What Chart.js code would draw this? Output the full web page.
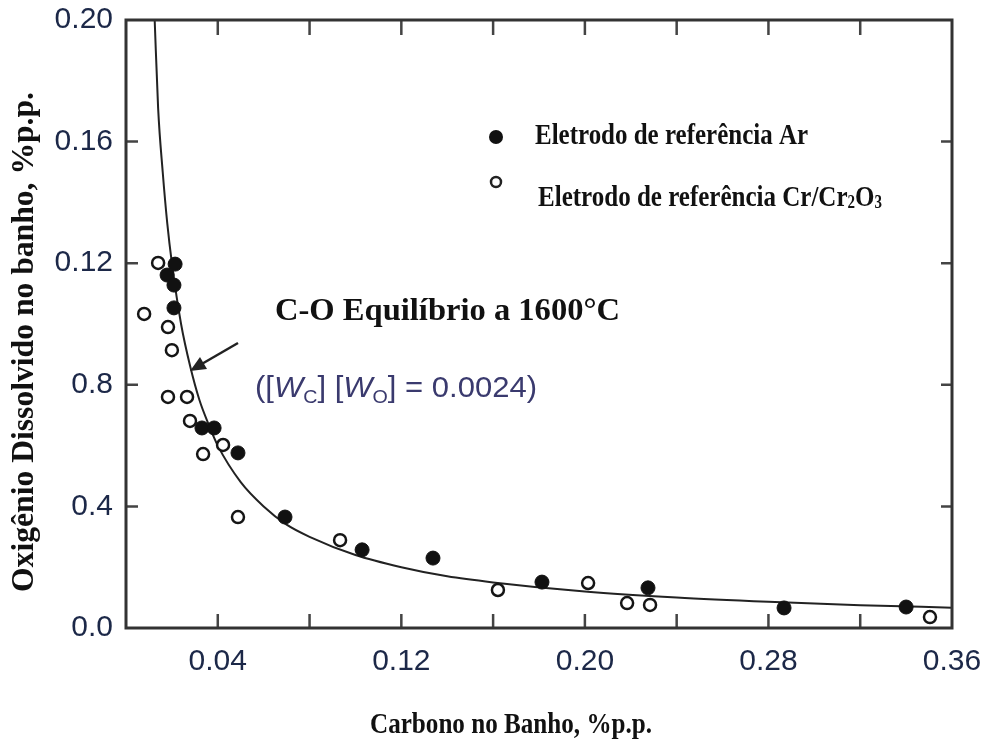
<!DOCTYPE html>
<html>
<head>
<meta charset="utf-8">
<script src="https://cdn.jsdelivr.net/npm/chart.js@4"></script>
<style>
  body { margin: 0; background: #fff; }
  canvas { display: block; }
</style>
</head>
<body>
<canvas id="chart" width="984" height="740"></canvas>
<script>
// axis ticks (the y labels are printed like this in the original figure)
const xTickValues = [0, 0.04, 0.08, 0.12, 0.16, 0.20, 0.24, 0.28, 0.32, 0.36];
const xTickLabels = ['', '0.04', '', '0.12', '', '0.20', '', '0.28', '', '0.36'];
const yTickValues = [0, 0.04, 0.08, 0.12, 0.16, 0.20];
const yTickLabels = ['0.0', '0.4', '0.8', '0.12', '0.16', '0.20'];

// equilibrium curve
const curveX = [0.0125, 0.014, 0.016, 0.018, 0.020, 0.024, 0.028, 0.032, 0.036, 0.040, 0.050, 0.060, 0.070, 0.080, 0.100, 0.120, 0.140, 0.160, 0.200, 0.240, 0.280, 0.320, 0.360];
const curveY = [0.200, 0.171, 0.150, 0.133, 0.120, 0.100, 0.086, 0.075, 0.067, 0.060, 0.048, 0.040, 0.034, 0.030, 0.024, 0.020, 0.017, 0.015, 0.012, 0.010, 0.0086, 0.0075, 0.0067];

// Ar reference electrode (filled dots)
const arX = [0.0214, 0.0179, 0.0209, 0.0209, 0.0331, 0.0384, 0.0488, 0.0693, 0.1029, 0.1338, 0.1813, 0.2275, 0.2868, 0.3400];
const arY = [0.1197, 0.1161, 0.1128, 0.1053, 0.0658, 0.0658, 0.0576, 0.0365, 0.0257, 0.0230, 0.0151, 0.0132, 0.0066, 0.0069];

// Cr/Cr2O3 reference electrode (open dots)
const crX = [0.0140, 0.0079, 0.0183, 0.0200, 0.0183, 0.0266, 0.0279, 0.0423, 0.0336, 0.0488, 0.0933, 0.1621, 0.2014, 0.2184, 0.2284, 0.3504];
const crY = [0.1201, 0.1033, 0.0990, 0.0914, 0.0760, 0.0760, 0.0681, 0.0602, 0.0572, 0.0365, 0.0289, 0.0125, 0.0148, 0.0082, 0.0076, 0.0036];

const toPoints = (xs, ys) => xs.map((x, i) => ({ x: x, y: ys[i] }));

const tickColor = '#1c2848';
const serif = '"Liberation Serif", "DejaVu Serif", serif';
const sans = '"Liberation Sans", Arial, sans-serif';

// draws a row of text pieces, squeezed to a target width
function drawRuns(ctx, runs, x, y, targetW, color) {
    ctx.save();
    ctx.fillStyle = color;
    ctx.textBaseline = 'alphabetic';
    ctx.textAlign = 'left';
    let total = 0;
    runs.forEach(r => { ctx.font = r.font; total += ctx.measureText(r.t).width; });
    ctx.translate(x, y);
    ctx.scale(targetW / total, 1);
    let cx = 0;
    runs.forEach(r => {
        ctx.font = r.font;
        ctx.fillText(r.t, cx, r.dy || 0);
        cx += ctx.measureText(r.t).width;
    });
    ctx.restore();
}

// frame, inward ticks, titles, legend and annotation
const decorPlugin = {
    id: 'decor',
    afterDraw(chart) {
        const ctx = chart.ctx;
        const a = chart.chartArea;
        const xs = chart.scales.x;
        const ys = chart.scales.y;

        ctx.save();
        ctx.strokeStyle = '#444';
        ctx.lineWidth = 2.5;
        xTickValues.slice(1, -1).forEach(v => {
            const px = xs.getPixelForValue(v);
            ctx.beginPath();
            ctx.moveTo(px, a.bottom); ctx.lineTo(px, a.bottom - 14);
            ctx.moveTo(px, a.top); ctx.lineTo(px, a.top + 15);
            ctx.stroke();
        });
        yTickValues.slice(1, -1).forEach(v => {
            const py = ys.getPixelForValue(v);
            ctx.beginPath();
            ctx.moveTo(a.left, py); ctx.lineTo(a.left + 12, py);
            ctx.moveTo(a.right, py); ctx.lineTo(a.right - 11, py);
            ctx.stroke();
        });
        ctx.strokeStyle = '#333';
        ctx.lineWidth = 3;
        ctx.strokeRect(a.left, a.top, a.right - a.left, a.bottom - a.top);

        // arrow pointing at the curve
        ctx.strokeStyle = '#222';
        ctx.fillStyle = '#222';
        ctx.lineWidth = 2.5;
        ctx.beginPath();
        ctx.moveTo(238, 343); ctx.lineTo(200, 365);
        ctx.stroke();
        ctx.beginPath();
        ctx.moveTo(190, 371); ctx.lineTo(200, 357); ctx.lineTo(207, 369);
        ctx.closePath();
        ctx.fill();
        ctx.restore();

        // axis titles
        drawRuns(ctx, [{ t: 'Carbono no Banho, %p.p.', font: 'bold 30px ' + serif }], 370, 733, 282, '#111');
        ctx.save();
        ctx.translate(33, 592);
        ctx.rotate(-Math.PI / 2);
        drawRuns(ctx, [{ t: 'Oxigênio Dissolvido no banho, %p.p.', font: 'bold 31px ' + serif }], 0, 0, 500, '#111');
        ctx.restore();

        // annotation
        drawRuns(ctx, [{ t: 'C-O Equilíbrio a 1600°C', font: 'bold 32px ' + serif }], 275, 320, 345, '#111');
        drawRuns(ctx, [
            { t: '([', font: '30px ' + sans },
            { t: 'W', font: 'italic 30px ' + sans },
            { t: 'C', font: '19px ' + sans, dy: 6 },
            { t: '] [', font: '30px ' + sans },
            { t: 'W', font: 'italic 30px ' + sans },
            { t: 'O', font: '19px ' + sans, dy: 6 },
            { t: '] = 0.0024)', font: '30px ' + sans }
        ], 255, 397, 282, '#3a3a6e');

        // legend
        ctx.save();
        ctx.fillStyle = '#111';
        ctx.beginPath();
        ctx.arc(496, 137, 7, 0, Math.PI * 2);
        ctx.fill();
        ctx.strokeStyle = '#222';
        ctx.lineWidth = 2.5;
        ctx.beginPath();
        ctx.arc(496, 182, 5, 0, Math.PI * 2);
        ctx.stroke();
        ctx.restore();
        drawRuns(ctx, [{ t: 'Eletrodo de referência Ar', font: 'bold 30px ' + serif }], 535, 144, 273, '#111');
        drawRuns(ctx, [
            { t: 'Eletrodo de referência Cr/Cr', font: 'bold 30px ' + serif },
            { t: '2', font: 'bold 18px ' + serif, dy: 2 },
            { t: 'O', font: 'bold 30px ' + serif },
            { t: '3', font: 'bold 18px ' + serif, dy: 2 }
        ], 538, 206, 344, '#111');
    }
};

let equilibriumChart = new Chart(document.querySelector('#chart').getContext('2d'), {
    type: 'scatter',
    data: {
        datasets: [{
            label: 'Eletrodo de referência Cr/Cr2O3',
            data: toPoints(crX, crY),
            pointRadius: 6,
            pointBackgroundColor: '#fff',
            pointBorderColor: '#151515',
            pointBorderWidth: 2.5,
            order: 0
        }, {
            label: 'Eletrodo de referência Ar',
            data: toPoints(arX, arY),
            pointRadius: 7,
            pointBackgroundColor: '#111',
            pointBorderColor: '#111',
            pointBorderWidth: 1,
            order: 1
        }, {
            label: 'C-O Equilíbrio a 1600°C',
            data: toPoints(curveX, curveY),
            showLine: true,
            borderColor: '#222',
            borderWidth: 2,
            pointRadius: 0,
            cubicInterpolationMode: 'monotone',
            order: 2
        }]
    },
    options: {
        responsive: false,
        animation: false,
        devicePixelRatio: 1,
        layout: { padding: { top: 20, right: 32, left: 0, bottom: 0 } },
        plugins: {
            legend: { display: false },
            tooltip: { enabled: false }
        },
        scales: {
            x: {
                type: 'linear',
                min: 0,
                max: 0.36,
                afterBuildTicks: s => { s.ticks = xTickValues.map(v => ({ value: v })); },
                afterFit: s => { s.height = 112; s.paddingLeft = 0; s.paddingRight = 0; },
                grid: { display: false, drawTicks: false },
                border: { display: false },
                ticks: {
                    autoSkip: false,
                    maxRotation: 0,
                    padding: 16,
                    color: tickColor,
                    font: { family: sans, size: 30 },
                    callback: (v, i) => xTickLabels[i]
                }
            },
            y: {
                type: 'linear',
                min: 0,
                max: 0.2,
                afterBuildTicks: s => { s.ticks = yTickValues.map(v => ({ value: v })); },
                afterFit: s => { s.width = 126; s.paddingTop = 0; s.paddingBottom = 0; },
                grid: { display: false, drawTicks: false },
                border: { display: false },
                ticks: {
                    autoSkip: false,
                    padding: 13,
                    color: tickColor,
                    font: { family: sans, size: 30 },
                    callback: (v, i) => yTickLabels[i]
                }
            }
        }
    },
    plugins: [decorPlugin]
});
</script>
</body>
</html>
